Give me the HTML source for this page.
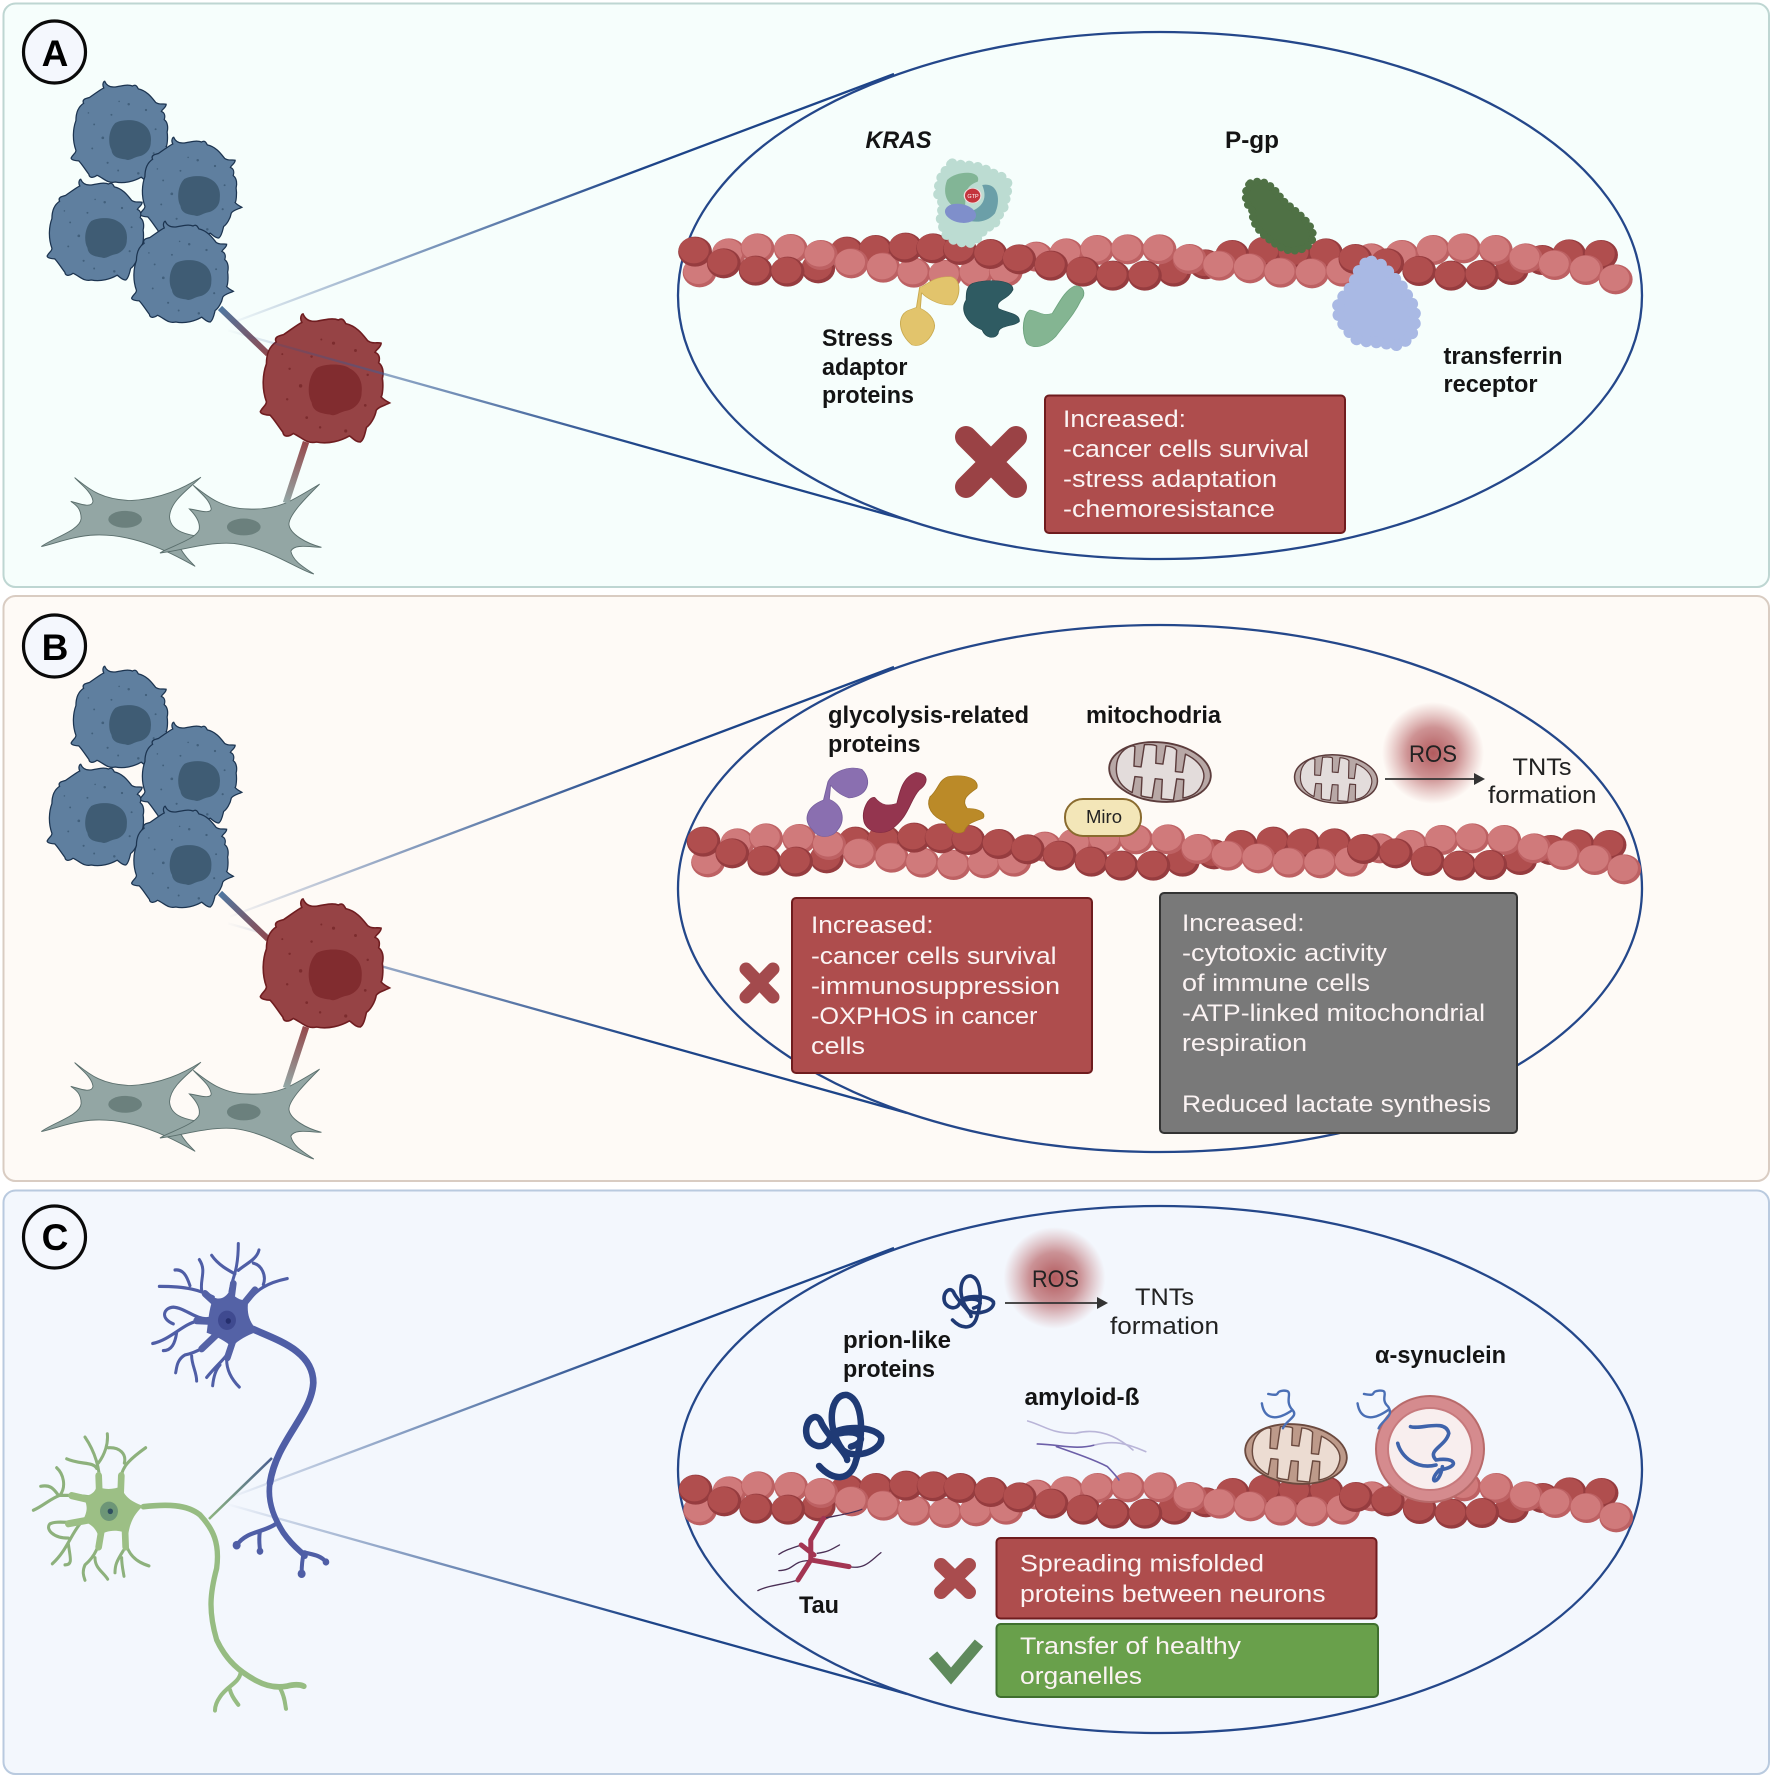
<!DOCTYPE html>
<html><head><meta charset="utf-8"><style>
html,body{margin:0;padding:0;background:#fff}
svg{display:block}
text{font-family:"Liberation Sans",sans-serif}
.b{font-weight:bold;font-size:24px;fill:#141414}
.w{font-size:24.5px;fill:#fbf3f3}
.r{font-size:24.5px;fill:#222}
.sc{vector-effect:non-scaling-stroke;stroke-linecap:round}
</style></head><body>
<svg xmlns="http://www.w3.org/2000/svg" width="1772" height="1777" viewBox="0 0 1772 1777">
<defs>
<linearGradient id="lg" gradientUnits="userSpaceOnUse" x1="225" y1="0" x2="640" y2="0"><stop offset="0" stop-color="#1d4488" stop-opacity="0"/><stop offset=".5" stop-color="#46699f" stop-opacity=".7"/><stop offset="1" stop-color="#1d4488"/></linearGradient>
<linearGradient id="c1" gradientUnits="userSpaceOnUse" x1="220" y1="308" x2="268" y2="354"><stop offset="0" stop-color="#4f77a0"/><stop offset="1" stop-color="#8e4a50"/></linearGradient>
<linearGradient id="c2" gradientUnits="userSpaceOnUse" x1="306" y1="442" x2="286" y2="503"><stop offset="0" stop-color="#96494c"/><stop offset="1" stop-color="#93a8a6"/></linearGradient>
<linearGradient id="c3" gradientUnits="userSpaceOnUse" x1="209" y1="1519" x2="272" y2="1458"><stop offset="0" stop-color="#8db57f"/><stop offset="1" stop-color="#4a5f8f"/></linearGradient>
<radialGradient id="ros"><stop offset="0" stop-color="#b25a5d"/><stop offset=".5" stop-color="#bb6a6d" stop-opacity=".72"/><stop offset="1" stop-color="#c67f80" stop-opacity="0"/></radialGradient>

<g id="d"><ellipse rx="26.5" ry="45" fill="#963c3f"/><ellipse cx="-2" cy="-4" rx="23.5" ry="39" fill="#b04e4e"/></g>
<g id="l"><ellipse rx="26.5" ry="45" fill="#bd6163"/><ellipse cx="-2" cy="-4" rx="23.5" ry="39" fill="#d07a7b"/></g>
<g id="mem">
<use href="#d" x="248" y="505"/><use href="#d" x="293" y="455"/><use href="#d" x="338" y="450"/><use href="#d" x="806" y="515"/><use href="#d" x="855" y="493"/><use href="#d" x="897" y="465"/><use href="#d" x="948" y="455"/><use href="#d" x="995" y="460"/><use href="#d" x="1044" y="460"/><use href="#d" x="1335" y="510"/><use href="#d" x="1383" y="480"/><use href="#d" x="1425" y="463"/><use href="#d" x="1475" y="465"/>
<use href="#l" x="62" y="517"/><use href="#l" x="108" y="460"/><use href="#l" x="153" y="445"/><use href="#l" x="205" y="447"/><use href="#l" x="252" y="465"/><use href="#l" x="300" y="490"/><use href="#l" x="350" y="503"/><use href="#l" x="398" y="518"/><use href="#l" x="447" y="525"/><use href="#l" x="495" y="520"/><use href="#l" x="542" y="515"/><use href="#l" x="590" y="470"/><use href="#l" x="637" y="460"/><use href="#l" x="685" y="450"/><use href="#l" x="733" y="448"/><use href="#l" x="783" y="448"/><use href="#l" x="830" y="477"/><use href="#l" x="877" y="497"/><use href="#l" x="925" y="505"/><use href="#l" x="973" y="518"/><use href="#l" x="1022" y="520"/><use href="#l" x="1070" y="515"/><use href="#l" x="1115" y="475"/><use href="#l" x="1163" y="465"/><use href="#l" x="1212" y="450"/><use href="#l" x="1260" y="445"/><use href="#l" x="1310" y="450"/><use href="#l" x="1357" y="475"/><use href="#l" x="1403" y="495"/><use href="#l" x="1452" y="510"/><use href="#l" x="1498" y="538"/>
<use href="#d" x="55" y="455"/><use href="#d" x="100" y="490"/><use href="#d" x="150" y="512"/><use href="#d" x="200" y="515"/><use href="#d" x="385" y="443"/><use href="#d" x="428" y="445"/><use href="#d" x="470" y="450"/><use href="#d" x="518" y="462"/><use href="#d" x="563" y="478"/><use href="#d" x="613" y="497"/><use href="#d" x="663" y="515"/><use href="#d" x="710" y="527"/><use href="#d" x="760" y="527"/><use href="#d" x="1090" y="477"/><use href="#d" x="1140" y="490"/><use href="#d" x="1190" y="513"/><use href="#d" x="1240" y="527"/><use href="#d" x="1288" y="525"/>
</g>

<path id="cp" stroke-width="2.6" d="M-36,-110 C-32,-100 -24,-97 -14,-98 C-2,-100 12,-104 22,-100 C28,-104 31,-100 34,-94 C52,-90 62,-76 70,-66 C78,-60 86,-64 92,-62 C92,-55 84,-52 82,-47 C90,-44 90,-36 88,-30 C96,-24 96,-12 94,-4 C96,8 94,24 92,26 C96,31 101,33 106,36 C98,40 88,42 84,48 C82,60 74,72 68,76 C66,84 64,96 58,100 C50,100 46,94 40,90 C26,98 6,104 -14,100 C-30,104 -38,92 -52,86 C-60,92 -68,92 -69,84 C-78,72 -84,62 -90,56 C-96,56 -106,54 -106,50 C-102,42 -96,40 -96,34 C-104,12 -102,-12 -96,-28 C-96,-44 -92,-56 -80,-64 C-84,-72 -76,-74 -68,-76 C-56,-84 -46,-92 -38,-96 C-42,-104 -38,-110 -36,-110 Z"/>
<path id="cn" d="M-30,-36 C-16,-44 12,-44 24,-36 C40,-28 46,-12 44,4 C44,22 30,32 18,34 C8,36 0,44 -8,40 C-22,38 -36,36 -38,20 C-46,6 -44,-22 -30,-36Z"/>
<g id="dots"><circle cx="14" cy="-62" r="2.6"/><circle cx="-22" cy="-40" r="2"/><circle cx="-58" cy="-20" r="2"/><circle cx="-40" cy="8" r="2.8"/><circle cx="-62" cy="30" r="2"/><circle cx="-30" cy="60" r="2.2"/><circle cx="-8" cy="76" r="2"/><circle cx="34" cy="82" r="2.6"/><circle cx="66" cy="40" r="2.2"/><circle cx="70" cy="-10" r="2"/><circle cx="50" cy="-50" r="2.4"/><circle cx="-6" cy="-68" r="1.6"/><circle cx="-70" cy="-44" r="1.6"/></g>
<g id="cb"><use href="#cp" fill="#5f7f9f" stroke="#1c3450"/><use href="#cn" transform="translate(16,13)" fill="#3f5c74"/><use href="#dots" fill="#42607c"/></g>
<g id="cr"><use href="#cp" fill="#964345" stroke="#6f1d20"/><use href="#cn" transform="translate(16,15)" fill="#812c2f"/><use href="#dots" fill="#7c2c2e"/></g>

<g id="cells">
<g transform="scale(.3827)" stroke="#5b6f6d" stroke-width="2.4" fill="#93a6a4">
<path d="M195,1248 C230,1275 260,1305 340,1308 C420,1305 480,1275 525,1247 C490,1280 445,1310 443,1350 C445,1385 480,1395 510,1400 L470,1430 C480,1450 495,1465 510,1480 C440,1440 350,1395 250,1398 C190,1400 140,1422 108,1428 C140,1405 210,1385 212,1355 C212,1330 200,1320 185,1310 C205,1315 240,1330 243,1310 C240,1285 210,1265 195,1248Z"/>
<path d="M505,1268 C540,1295 580,1330 650,1330 C690,1332 720,1325 745,1315 C770,1305 810,1280 835,1265 C800,1300 755,1345 755,1370 C757,1395 800,1420 840,1430 C810,1430 770,1420 760,1440 C765,1465 790,1480 820,1500 C780,1490 700,1430 610,1420 C540,1415 470,1440 418,1445 C440,1430 510,1410 520,1385 C525,1365 510,1345 495,1330 C515,1332 550,1345 552,1330 C548,1305 525,1290 505,1268Z"/>
<ellipse cx="327" cy="1357" rx="44" ry="22" fill="#6b807d" stroke="none"/><ellipse cx="637" cy="1377" rx="44" ry="22" fill="#6b807d" stroke="none"/>
</g>
<line x1="220" y1="308" x2="268" y2="354" stroke="url(#c1)" stroke-width="6"/>
<line x1="306" y1="442" x2="286" y2="503" stroke="url(#c2)" stroke-width="6.5"/>
<use href="#cb" transform="translate(122,134) scale(.48)"/>
<use href="#cb" transform="translate(191,190) scale(.48)"/>
<use href="#cb" transform="translate(98,232) scale(.48)"/>
<use href="#cb" transform="translate(182.5,274) scale(.48)"/>
<use href="#cr" transform="translate(325,381) scale(.61)"/>
</g>

<g id="zl" fill="none" stroke="url(#lg)" stroke-width="2.3">
<line x1="230" y1="323.6" x2="894" y2="74"/>
<line x1="228" y1="330.4" x2="907" y2="520"/>
</g>

<g id="mito" stroke-linejoin="round">
<ellipse rx="50" ry="29" stroke-width="1.8"/>
<path fill="currentColor" d="M-43,-1 C-44,-16 -31,-25 -27,-22 L-26,-3 L-19,-3 L-18,-25 C-12,-26 -8,-26 -6,-25 L-5,-8 L2,-8 L3,-26 C8,-26 12,-25 14,-23 L15,-2 L22,-2 L23,-20 C37,-15 45,-6 43,4 C41,17 32,21 25,23 L24,5 L17,5 L16,26 C10,26 6,26 4,26 L3,7 L-4,7 L-5,26 C-10,26 -14,26 -16,25 L-17,7 L-24,7 L-25,23 C-35,19 -43,12 -43,-1Z" stroke-width="1.4"/>
</g>
<path id="prion" class="sc" fill="none" d="M218,738 C240,785 268,785 276,720 C288,650 288,540 262,525 C235,520 228,620 255,690 C275,722 320,690 315,650 C300,610 235,620 235,655 C228,695 200,680 198,640 C195,600 215,570 222,610 C232,650 262,700 262,720 M250,640 C285,625 295,665 268,680"/>
</defs>

<rect x="3.5" y="3.5" width="1765.5" height="583.5" rx="12" fill="#f6fefc" stroke="#bed6d2" stroke-width="2"/>
<rect x="3.5" y="596" width="1765.5" height="585" rx="12" fill="#fefaf6" stroke="#d9ccc2" stroke-width="2"/>
<rect x="3.5" y="1190.5" width="1765.5" height="583.5" rx="12" fill="#f3f7fd" stroke="#b9cadf" stroke-width="2"/>

<g fill="#f4f7fd" stroke="#0a0a0a" stroke-width="3.2"><circle cx="54.5" cy="52" r="31"/><circle cx="54.5" cy="646" r="31"/><circle cx="54.5" cy="1237" r="31"/></g>
<g font-weight="bold" font-size="37" text-anchor="middle" fill="#000"><text x="55" y="66">A</text><text x="55" y="660">B</text><text x="55" y="1250">C</text></g>

<!-- PANEL A -->
<use href="#cells"/>
<use href="#zl"/>
<ellipse cx="1160" cy="295.5" rx="482" ry="263.5" fill="none" stroke="#24478a" stroke-width="2.3"/>
<use href="#mem" transform="translate(660,100) scale(.638,.3333)"/>
<g transform="translate(660,100) scale(.638,.3333)">
<path class="sc" fill="#bcdcd2" stroke="#bcdcd2" stroke-width="10" stroke-dasharray="0.1 8.5" d="M458,190 C480,200 500,192 520,220 C545,230 552,260 540,285 C548,320 525,345 525,375 C505,380 505,405 490,428 C470,432 445,415 445,385 C432,350 450,320 440,300 C428,270 445,240 440,228 C448,215 452,200 458,190Z"/>
<path fill="#82b596" d="M450,240 C465,210 505,210 498,245 C475,260 480,290 478,325 C455,330 440,290 450,240Z"/>
<path fill="#6b9fa8" d="M505,255 C530,245 535,300 525,340 C510,375 480,370 470,345 C505,330 515,300 505,255Z"/>
<ellipse cx="471" cy="340" rx="23" ry="30" fill="#7f8fcb" transform="rotate(-25 471 340)"/>
<ellipse cx="490" cy="287" rx="13" ry="22" fill="#c4343c" stroke="#f4dede" stroke-width="2"/>
<path class="sc" fill="#4f7145" stroke="#4f7145" stroke-width="8" stroke-dasharray="0.1 7" d="M925,250 C945,235 960,255 975,300 C1000,340 1030,380 1022,420 C1015,455 985,460 972,440 C945,410 925,370 930,335 C915,310 915,270 925,250Z"/>
<path class="sc" fill="#a9b9e4" stroke="#a9b9e4" stroke-width="12" stroke-dasharray="0.1 10" d="M1115,485 C1135,487 1140,520 1160,550 C1170,590 1188,620 1182,660 C1188,695 1165,740 1150,735 C1130,725 1110,728 1092,718 C1075,690 1058,640 1062,620 C1072,575 1090,560 1090,530 C1098,505 1103,487 1115,485Z"/>
<path fill="#e2c46c" stroke="#c9aa50" stroke-width="1.5" d="M407,562 C420,555 425,530 455,530 C475,535 470,600 458,615 C435,618 415,590 410,578 L408,625 C425,640 435,670 428,695 C420,730 405,742 395,735 C375,705 370,650 388,632 L402,622Z"/>
<path fill="#2f5b62" stroke="#234a50" stroke-width="1.5" d="M490,550 C515,535 555,540 553,570 C545,600 525,600 530,625 C545,640 565,640 563,665 C555,680 530,675 530,700 C525,720 510,715 505,690 C480,670 470,630 480,600 C480,580 480,560 490,550Z"/>
<path fill="#84b592" stroke="#6da37e" stroke-width="1.5" d="M650,558 C665,555 668,585 660,600 C650,640 640,660 620,710 C605,740 585,750 575,730 C565,690 570,640 580,630 C595,635 600,650 615,640 C625,610 635,570 650,558Z"/>
</g>
<text x="973" y="198" font-size="5.5" fill="#fff" text-anchor="middle">GTP</text>
<text class="b" x="865.5" y="148" font-style="italic" textLength="66" lengthAdjust="spacingAndGlyphs">KRAS</text>
<text class="b" x="1225" y="148" textLength="54" lengthAdjust="spacingAndGlyphs">P-gp</text>
<text class="b" x="822" y="346" textLength="71" lengthAdjust="spacingAndGlyphs">Stress</text>
<text class="b" x="822" y="375" textLength="85.5" lengthAdjust="spacingAndGlyphs">adaptor</text>
<text class="b" x="822" y="403" textLength="92" lengthAdjust="spacingAndGlyphs">proteins</text>
<text class="b" x="1443.5" y="364" textLength="119" lengthAdjust="spacingAndGlyphs">transferrin</text>
<text class="b" x="1443.5" y="392" textLength="94" lengthAdjust="spacingAndGlyphs">receptor</text>
<path d="M966,437 L1016,487 M1016,437 L966,487" stroke="#9a4245" stroke-width="22" stroke-linecap="round" fill="none"/>
<rect x="1045" y="395.5" width="300" height="137.5" rx="4" fill="#ae4d4d" stroke="#6f1c1e" stroke-width="2"/>
<text class="w" x="1063" y="427" textLength="123" lengthAdjust="spacingAndGlyphs">Increased:</text>
<text class="w" x="1063" y="457" textLength="246" lengthAdjust="spacingAndGlyphs">-cancer cells survival</text>
<text class="w" x="1063" y="487" textLength="214" lengthAdjust="spacingAndGlyphs">-stress adaptation</text>
<text class="w" x="1063" y="517" textLength="212" lengthAdjust="spacingAndGlyphs">-chemoresistance</text>

<!-- PANEL B -->
<use href="#zl" transform="translate(0,593)"/>
<use href="#cells" transform="translate(0,585)"/>
<ellipse cx="1160" cy="888.5" rx="482" ry="263.5" fill="none" stroke="#24478a" stroke-width="2.3"/>
<use href="#mem" transform="translate(668.5,690) scale(.638,.3333)"/>
<g transform="translate(680,680) scale(.638,.3333)">
<path fill="#8a6fb0" stroke="#77609e" stroke-width="1.5" d="M232,305 C240,275 265,255 285,268 C302,300 295,350 265,354 C250,345 240,325 236,315 L234,358 C255,375 260,420 247,450 C237,478 215,475 208,450 C192,420 198,380 225,360Z"/>
<path fill="#94354f" stroke="#802a42" stroke-width="1.5" d="M370,277 C390,280 390,310 375,330 C360,360 360,410 330,450 C310,470 290,450 288,420 C285,390 295,350 305,352 C315,375 325,380 340,370 C345,330 350,290 370,277Z"/>
<path fill="#bb8a28" stroke="#a67a20" stroke-width="1.5" d="M420,290 C450,280 470,300 465,325 C450,345 440,360 450,385 C470,385 480,400 475,415 C460,425 450,430 445,455 C430,470 420,440 415,425 C395,410 385,380 392,350 C405,330 405,300 420,290Z"/>
</g>
<use href="#mito" transform="translate(1160,772) rotate(6) scale(1.02)" fill="#b8a8a6" stroke="#5c3c3c" color="#e3dcdb"/>
<use href="#mito" transform="translate(1336,779) rotate(4) scale(.83)" fill="#b8a8a6" stroke="#5c3c3c" color="#e3dcdb"/>
<rect x="1065" y="799" width="76" height="37" rx="18" fill="#f3e6b8" stroke="#8a6b2f" stroke-width="2"/>
<text x="1086" y="823" font-size="18" fill="#222" textLength="36" lengthAdjust="spacingAndGlyphs">Miro</text>
<circle cx="1433" cy="753" r="51" fill="url(#ros)"/>
<text class="r" x="1409" y="762" textLength="48" lengthAdjust="spacingAndGlyphs">ROS</text>
<line x1="1385" y1="779" x2="1476" y2="779" stroke="#333" stroke-width="1.8"/><path d="M1474,773 L1485,779 L1474,785Z" fill="#333"/>
<text class="r" x="1512.5" y="775" textLength="59" lengthAdjust="spacingAndGlyphs">TNTs</text>
<text class="r" x="1488" y="803" textLength="108.5" lengthAdjust="spacingAndGlyphs">formation</text>
<text class="b" x="828" y="723" textLength="201" lengthAdjust="spacingAndGlyphs">glycolysis-related</text>
<text class="b" x="828" y="752" textLength="92.5" lengthAdjust="spacingAndGlyphs">proteins</text>
<text class="b" x="1086" y="723" textLength="135" lengthAdjust="spacingAndGlyphs">mitochodria</text>
<path d="M746,969 L773,997 M773,969 L746,997" stroke="#a34a4d" stroke-width="13" stroke-linecap="round" fill="none"/>
<rect x="792" y="898" width="300" height="175" rx="4" fill="#ae4d4d" stroke="#6f1c1e" stroke-width="2"/>
<text class="w" x="811" y="933" textLength="122.5" lengthAdjust="spacingAndGlyphs">Increased:</text>
<text class="w" x="811" y="964" textLength="245.5" lengthAdjust="spacingAndGlyphs">-cancer cells survival</text>
<text class="w" x="811" y="994" textLength="249" lengthAdjust="spacingAndGlyphs">-immunosuppression</text>
<text class="w" x="811" y="1024" textLength="226.5" lengthAdjust="spacingAndGlyphs">-OXPHOS in cancer</text>
<text class="w" x="811" y="1054" textLength="54" lengthAdjust="spacingAndGlyphs">cells</text>
<rect x="1160" y="893" width="357" height="240" rx="4" fill="#797979" stroke="#333" stroke-width="2"/>
<text class="w" x="1182" y="931" textLength="122.5" lengthAdjust="spacingAndGlyphs">Increased:</text>
<text class="w" x="1182" y="961" textLength="205" lengthAdjust="spacingAndGlyphs">-cytotoxic activity</text>
<text class="w" x="1182" y="991" textLength="188" lengthAdjust="spacingAndGlyphs">of immune cells</text>
<text class="w" x="1182" y="1021" textLength="303" lengthAdjust="spacingAndGlyphs">-ATP-linked mitochondrial</text>
<text class="w" x="1182" y="1051" textLength="125" lengthAdjust="spacingAndGlyphs">respiration</text>
<text class="w" x="1182" y="1112" textLength="309" lengthAdjust="spacingAndGlyphs">Reduced lactate synthesis</text>

<!-- PANEL C -->
<use href="#zl" transform="translate(0,1174)"/>
<line x1="209" y1="1519" x2="272" y2="1458" stroke="url(#c3)" stroke-width="2.6"/>
<g transform="translate(0,1190) scale(.3333,.357)" fill="none" stroke-linecap="round" stroke-linejoin="round">
<g stroke="#4f5ea6" stroke-width="9">
<path d="M640,300 C600,280 560,270 478,270 M570,268 C560,240 550,222 525,224 M605,280 C600,250 620,225 598,195 M690,285 C695,250 715,230 715,150 M705,235 C685,225 655,210 635,183 M715,225 C740,205 770,195 777,168 M745,310 C770,280 800,260 862,248 M790,265 C800,240 785,210 760,205 M625,360 C590,365 555,330 520,328 C490,330 480,360 520,375 M590,368 C550,375 510,420 458,430 M530,400 C525,430 515,450 490,450 M650,410 C620,440 590,455 555,462 C530,475 530,500 527,512 M575,465 C575,490 590,510 590,535 M695,440 C680,470 650,490 620,525 M680,475 C680,510 700,535 718,552 M660,490 C645,505 640,530 638,548"/>
<path stroke="#5462a6" stroke-width="20" d="M650,320 L615,290 M692,320 L700,262 M730,320 L765,280 M640,368 L590,366 M650,405 L605,445 M700,420 L682,470"/>
<path stroke-width="20" d="M760,390 C830,420 940,450 940,540 C935,630 830,700 810,820"/>
<path stroke-width="17" d="M810,820 C800,880 830,930 850,960 C880,1000 900,1010 915,1025"/>
<path stroke-width="12" d="M828,935 C790,960 740,955 710,995 M780,955 C775,980 780,1000 780,1012 M915,1015 C925,1020 960,1020 978,1042 M912,1015 C905,1040 905,1060 905,1075"/>
</g>
<g fill="#4f5ea6"><circle cx="710" cy="995" r="12"/><circle cx="780" cy="1012" r="10"/><circle cx="978" cy="1042" r="10"/><circle cx="905" cy="1075" r="12"/></g>
<path fill="#5462a6" d="M640,300 C660,310 680,300 690,280 C700,300 720,310 745,310 C740,340 745,370 775,395 C750,405 720,415 695,440 C680,425 650,410 620,400 C625,370 625,340 640,300Z"/>
<circle cx="681" cy="365" r="27" fill="#3f4a90"/><circle cx="685" cy="367" r="8" fill="#252f6d"/>
<g stroke="#8db17c" stroke-width="9">
<path d="M300,830 C300,790 290,740 255,692 M295,765 C315,740 325,710 322,683 M290,780 C280,760 240,770 200,753 M360,830 C360,780 380,760 437,722 M373,765 C380,740 360,720 325,722 M270,860 C240,855 210,855 180,855 C150,865 130,885 100,897 M180,855 C200,830 190,795 170,778 M175,855 C160,835 150,825 122,830 M250,930 C220,935 170,925 150,935 C135,950 160,975 205,975 M240,935 C210,970 200,1010 157,1047 M205,990 C210,1030 220,1050 195,1050 M300,960 C300,1000 280,1030 255,1050 C245,1070 252,1085 255,1093 M285,1030 C285,1060 310,1070 323,1090 M375,965 C375,1010 400,1040 447,1053 M370,1010 C350,1040 345,1050 345,1072 M365,1030 C365,1050 370,1070 372,1082"/>
<path stroke="#9cbf85" stroke-width="20" d="M298,850 L296,800 M362,850 L364,800 M270,868 L215,856 M262,925 L205,935 M305,950 L296,1000 M375,950 L377,1000"/>
<path stroke="#96bc82" stroke-width="16" d="M430,887 C500,880 560,880 600,910 C640,950 660,990 650,1060 C630,1130 625,1180 650,1260 C680,1320 720,1350 770,1375 C800,1390 830,1395 860,1390 C880,1385 900,1385 912,1390"/>
<path stroke="#96bc82" stroke-width="12" d="M722,1350 C720,1380 680,1390 660,1420 C645,1440 645,1455 645,1458 M690,1400 C695,1420 710,1435 715,1442 M840,1395 C855,1420 855,1440 858,1453"/>
</g>
<path fill="#9cbf85" d="M290,830 C310,840 340,840 365,830 C370,860 400,875 430,885 C410,900 390,925 385,965 C360,950 320,950 295,970 C290,950 270,930 245,930 C265,900 265,880 245,855 C265,860 285,850 290,830Z"/>
<circle cx="327" cy="900" r="27" fill="#6d9677"/><circle cx="331" cy="900" r="8" fill="#2f4f5f"/>
</g>
<ellipse cx="1160" cy="1469.5" rx="482" ry="263.5" fill="none" stroke="#24478a" stroke-width="2.3"/>
<use href="#mem" transform="translate(660.5,1338) scale(.638,.3333)"/>
<use href="#mito" transform="translate(1296,1454) rotate(6) scale(1.02)" fill="#bd9a8a" stroke="#6b4a3f" color="#ecdcd2"/>
<ellipse cx="1430" cy="1449" rx="54" ry="53" fill="#d58b8e" stroke="#b86a6a" stroke-width="2"/>
<ellipse cx="1430" cy="1449" rx="42" ry="41" fill="#f8eeee" stroke="#c77a7d" stroke-width="2"/>
<g transform="translate(680,1220) scale(.638,.3333)" fill="none" stroke-linecap="round">
<use href="#prion" stroke="#1f3a75" stroke-width="6.5"/>
<use href="#prion" stroke="#1f3a75" stroke-width="3.6" transform="translate(283.3,-157.4) scale(.66,.62)"/>
<g stroke="#4a6fb5" stroke-width="2.4">
<path class="sc" d="M945,625 C950,600 970,590 960,570 C945,540 965,510 945,512 C930,515 945,530 922,522 M960,570 C930,610 915,590 912,550"/>
<path class="sc" d="M1095,625 C1100,600 1120,590 1110,560 C1095,535 1115,510 1095,512 C1080,515 1095,530 1072,522 M1110,570 C1080,610 1065,590 1062,550"/>
</g>
<path class="sc" stroke="#3f63ab" stroke-width="3.6" d="M1145,620 C1160,630 1200,595 1205,640 C1200,680 1170,690 1185,720 C1215,710 1225,740 1190,750 C1170,790 1190,800 1195,740 M1125,670 C1130,710 1155,750 1185,735"/>
<g stroke="#6c5fa8" stroke-width="1.6"><path class="sc" d="M590,680 C620,700 650,720 670,740 C680,760 685,770 688,780 M560,672 C600,675 620,690 650,675"/><path class="sc" stroke="#b9b5d8" d="M545,603 C575,620 580,640 620,640 C650,625 680,640 710,690 M650,675 C680,660 700,670 730,695"/></g>
<g stroke="#4a2f55" stroke-width="1.3"><path class="sc" d="M225,895 C250,885 270,880 285,868 M185,1080 C160,1095 140,1095 122,1112 M265,1040 C290,1050 300,1020 315,998 M190,975 C175,985 165,990 155,1003 M215,1000 C235,995 240,985 250,975 M200,1022 C175,1025 180,1050 155,1052"/></g>
<path class="sc" stroke="#a33552" stroke-width="5" stroke-linejoin="round" d="M225,895 L205,960 L205,1020 L265,1040 M205,1020 L185,1080 M190,975 L210,1005"/>
</g>
<circle cx="1054.5" cy="1278" r="51" fill="url(#ros)"/>
<text class="r" x="1032" y="1287" textLength="47" lengthAdjust="spacingAndGlyphs">ROS</text>
<line x1="1005" y1="1303" x2="1099" y2="1303" stroke="#333" stroke-width="1.8"/><path d="M1097,1297 L1108,1303 L1097,1309Z" fill="#333"/>
<text class="r" x="1135" y="1305" textLength="59" lengthAdjust="spacingAndGlyphs">TNTs</text>
<text class="r" x="1110" y="1334" textLength="109" lengthAdjust="spacingAndGlyphs">formation</text>
<text class="b" x="843" y="1348" textLength="108" lengthAdjust="spacingAndGlyphs">prion-like</text>
<text class="b" x="843" y="1377" textLength="92" lengthAdjust="spacingAndGlyphs">proteins</text>
<text class="b" x="1024.5" y="1405" textLength="115" lengthAdjust="spacingAndGlyphs">amyloid-ß</text>
<text class="b" x="1375" y="1363" textLength="131" lengthAdjust="spacingAndGlyphs">α-synuclein</text>
<text class="b" x="799" y="1613" textLength="40" lengthAdjust="spacingAndGlyphs">Tau</text>
<path d="M941,1565 L969,1592 M969,1565 L941,1592" stroke="#a94c4e" stroke-width="14" stroke-linecap="round" fill="none"/>
<path d="M933,1655 L951,1676 L979,1643" stroke="#5f8a5c" stroke-width="11" fill="none"/>
<rect x="996.5" y="1538" width="380" height="80.5" rx="4" fill="#ae4d4d" stroke="#6f1c1e" stroke-width="2"/>
<text class="w" x="1020" y="1571.5" textLength="244" lengthAdjust="spacingAndGlyphs">Spreading misfolded</text>
<text class="w" x="1020" y="1602" textLength="305.5" lengthAdjust="spacingAndGlyphs">proteins between neurons</text>
<rect x="996.5" y="1624" width="381.5" height="73" rx="4" fill="#69a04b" stroke="#3f6f2e" stroke-width="2"/>
<text class="w" x="1020" y="1654" textLength="221" lengthAdjust="spacingAndGlyphs">Transfer of healthy</text>
<text class="w" x="1020" y="1684" textLength="122" lengthAdjust="spacingAndGlyphs">organelles</text>
</svg>
</body></html>
